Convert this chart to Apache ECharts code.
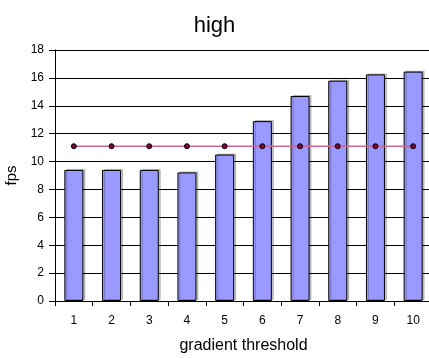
<!DOCTYPE html>
<html><head><meta charset="utf-8">
<script src="https://cdn.jsdelivr.net/npm/echarts@6/dist/echarts.min.js"></script>
<style>html,body{margin:0;padding:0;background:#fff}#c{width:429px;height:358px}</style>
</head><body><div id="c"></div>
<script>
const categories = ['1','2','3','4','5','6','7','8','9','10'];
const fpsValues = [9.4, 9.4, 9.4, 9.22, 10.5, 12.9, 14.7, 15.8, 16.25, 16.45];
const referenceValues = [11.1, 11.1, 11.1, 11.1, 11.1, 11.1, 11.1, 11.1, 11.1, 11.1];
const yTicks = {min: 0, max: 18, interval: 2};

const font = 'Liberation Sans, Arial, sans-serif';
const chart = echarts.init(document.getElementById('c'), null, {renderer: 'canvas'});
chart.setOption({
  animation: false,
  title: {text: 'high', left: 'center', top: 10, textStyle: {fontFamily: font, fontWeight: 'normal', fontSize: 22, color: '#000'}},
  grid: {left: 55, top: 50, width: 377, height: 251, containLabel: false, outerBoundsMode: 'none'},
  xAxis: {
    type: 'category', data: categories, boundaryGap: true,
    name: 'gradient threshold', nameLocation: 'middle', nameGap: 37,
    nameTextStyle: {fontFamily: font, fontSize: 16, color: '#000'},
    axisLine: {lineStyle: {color: '#000', width: 1}},
    axisTick: {show: true, length: 5, lineStyle: {color: '#000'}, alignWithLabel: false},
    axisLabel: {fontFamily: font, fontSize: 12, color: '#000', margin: 14}
  },
  yAxis: {
    type: 'value', min: yTicks.min, max: yTicks.max, interval: yTicks.interval,
    name: 'fps', nameLocation: 'middle', nameGap: 34, nameRotate: 90,
    nameTextStyle: {fontFamily: font, fontSize: 15, color: '#000'},
    axisLine: {show: true, lineStyle: {color: '#000', width: 1}},
    axisTick: {show: true, length: 6, lineStyle: {color: '#000'}},
    axisLabel: {fontFamily: font, fontSize: 12, color: '#000', margin: 11},
    splitLine: {show: true, lineStyle: {color: '#000', width: 1}}
  },
  series: [
    {
      type: 'bar', data: fpsValues, barWidth: 19,
      itemStyle: {color: '#9999ff', borderColor: '#000', borderWidth: 1,
        shadowColor: 'rgba(0,0,0,0.22)', shadowBlur: 0, shadowOffsetX: 2, shadowOffsetY: -1}
    },
    {
      type: 'line', data: referenceValues, symbol: 'circle', symbolSize: 5,
      lineStyle: {color: '#cc6699', width: 1.5},
      itemStyle: {color: '#800040', borderColor: '#000', borderWidth: 1},
      z: 5
    }
  ]
});
</script></body></html>
